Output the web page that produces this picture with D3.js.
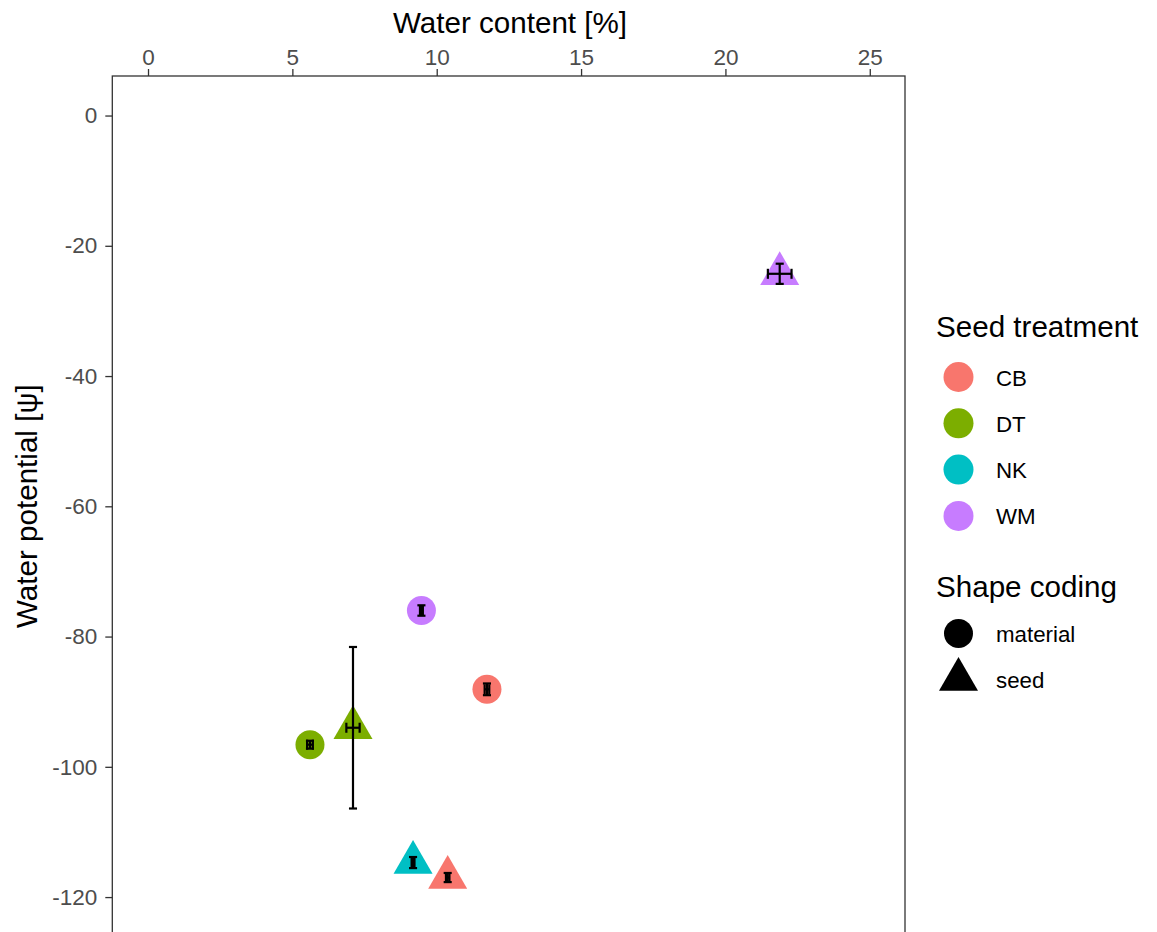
<!DOCTYPE html>
<html><head><meta charset="utf-8">
<script src="https://cdn.jsdelivr.net/npm/d3@7"></script>
<style>
html,body{margin:0;padding:0;background:#fff;}
svg{display:block;font-family:"Liberation Sans",Arial,sans-serif;}
</style></head>
<body>
<svg id="chart" width="1157" height="932"></svg>
<script>
// ---- data ----
const treatments = ["CB", "DT", "NK", "WM"];
const treatmentColors = ["#F8766D", "#7CAE00", "#00BFC4", "#C77CFF"];
const shapeTypes = ["material", "seed"];
const pointTreatment = ["CB", "CB", "DT", "DT", "NK", "WM", "WM"];
const pointType = ["material", "seed", "material", "seed", "seed", "material", "seed"];
const waterContent = [11.74, 10.38, 5.61, 7.10, 9.18, 9.47, 21.88];
const waterContentErr = [0.08, 0.06, 0.10, 0.23, 0.05, 0.05, 0.41];
const waterPotential = [-88.1, -117.0, -96.6, -94.0, -114.7, -76.0, -24.3];
const waterPotentialErr = [0.9, 0.7, 0.6, 12.4, 0.85, 0.8, 1.55];
const xTicks = [0, 5, 10, 15, 20, 25];
const yTicks = [0, -20, -40, -60, -80, -100, -120];

const points = pointTreatment.map((t, i) => ({
  t, type: pointType[i], x: waterContent[i], xe: waterContentErr[i],
  y: waterPotential[i], ye: waterPotentialErr[i]
}));

// ---- layout ----
const svg = d3.select("#chart");
const panel = {left: 112.3, right: 905, top: 76, bottom: 985};
const x = d3.scaleLinear().domain([-1.237, 26.22]).range([panel.left, panel.right]);
const y = d3.scaleLinear().domain([6.07, -133.5]).range([panel.top, panel.bottom]);
const color = d3.scaleOrdinal().domain(treatments).range(treatmentColors);

const R = 14.5;
function triPath(w) {
  const h = w * Math.sqrt(3) / 2;
  const top = -h * 2 / 3, bot = h / 3;
  return `M0,${top}L${w/2},${bot}L${-w/2},${bot}Z`;
}
function drawShape(g, type, fill) {
  if (type === "material") g.append("circle").attr("r", R).attr("fill", fill);
  else g.append("path").attr("d", triPath(39)).attr("fill", fill);
}

// panel border
svg.append("rect").attr("x", panel.left).attr("y", panel.top)
  .attr("width", panel.right - panel.left).attr("height", panel.bottom - panel.top)
  .attr("fill", "none").attr("stroke", "#333333").attr("stroke-width", 1.3);

// axes
const xAxis = svg.append("g").attr("transform", `translate(0,${panel.top})`)
  .call(d3.axisTop(x).tickValues(xTicks).tickSize(7).tickPadding(4).tickFormat(d3.format("d")));
const yAxis = svg.append("g").attr("transform", `translate(${panel.left},0)`)
  .call(d3.axisLeft(y).tickValues(yTicks).tickSize(7).tickPadding(8).tickFormat(d => d === 0 ? "0" : "-" + Math.abs(d)));
[xAxis, yAxis].forEach(a => {
  a.select(".domain").remove();
  a.selectAll(".tick line").attr("stroke", "#333333").attr("stroke-width", 1.3);
  a.selectAll(".tick text").attr("fill", "#4D4D4D").style("font-size", "22.5px")
    .style("font-family", "'Liberation Sans',Arial,sans-serif");
});

// axis titles
svg.append("text").attr("x", 510).attr("y", 33)
  .attr("text-anchor", "middle").style("font-size", "29.6px").attr("fill", "#000")
  .text("Water content [%]");
svg.append("text").attr("transform", `translate(37,628) rotate(-90)`)
  .attr("text-anchor", "start").style("font-size", "29.6px").attr("fill", "#000")
  .text("Water potential [ψ]");

// points
const pg = svg.append("g");
points.forEach(p => {
  const g = pg.append("g").attr("transform", `translate(${x(p.x)},${y(p.y)})`);
  drawShape(g, p.type, color(p.t));
});

// error bars
const eg = svg.append("g").attr("stroke", "#000").attr("stroke-width", 2.2).attr("fill", "none");
const capX = 0.14, capY = 0.77; // half cap sizes in data units
points.forEach(p => {
  // vertical
  eg.append("line").attr("x1", x(p.x)).attr("x2", x(p.x)).attr("y1", y(p.y - p.ye)).attr("y2", y(p.y + p.ye));
  eg.append("line").attr("x1", x(p.x - capX)).attr("x2", x(p.x + capX)).attr("y1", y(p.y - p.ye)).attr("y2", y(p.y - p.ye));
  eg.append("line").attr("x1", x(p.x - capX)).attr("x2", x(p.x + capX)).attr("y1", y(p.y + p.ye)).attr("y2", y(p.y + p.ye));
  // horizontal
  eg.append("line").attr("x1", x(p.x - p.xe)).attr("x2", x(p.x + p.xe)).attr("y1", y(p.y)).attr("y2", y(p.y));
  eg.append("line").attr("x1", x(p.x - p.xe)).attr("x2", x(p.x - p.xe)).attr("y1", y(p.y - capY)).attr("y2", y(p.y + capY));
  eg.append("line").attr("x1", x(p.x + p.xe)).attr("x2", x(p.x + p.xe)).attr("y1", y(p.y - capY)).attr("y2", y(p.y + capY));
});

// legends
const lg = svg.append("g");
lg.append("text").attr("x", 936).attr("y", 337).style("font-size", "29.6px").attr("fill", "#000").text("Seed treatment");
treatments.forEach((t, i) => {
  const cy = 377 + i * 46.3;
  lg.append("circle").attr("cx", 958.5).attr("cy", cy).attr("r", R + 0.5).attr("fill", color(t));
  lg.append("text").attr("x", 996).attr("y", cy + 8.5).style("font-size", "22.3px").attr("fill", "#000").text(t);
});
lg.append("text").attr("x", 936).attr("y", 597).style("font-size", "29.6px").attr("fill", "#000").text("Shape coding");
shapeTypes.forEach((s, i) => {
  const cy = 633.5 + i * 46;
  const g = lg.append("g").attr("transform", `translate(958.5,${cy})`);
  drawShape(g, s, "#000");
  lg.append("text").attr("x", 996).attr("y", cy + 8.5).style("font-size", "22.3px").attr("fill", "#000").text(s);
});
</script>
</body></html>
